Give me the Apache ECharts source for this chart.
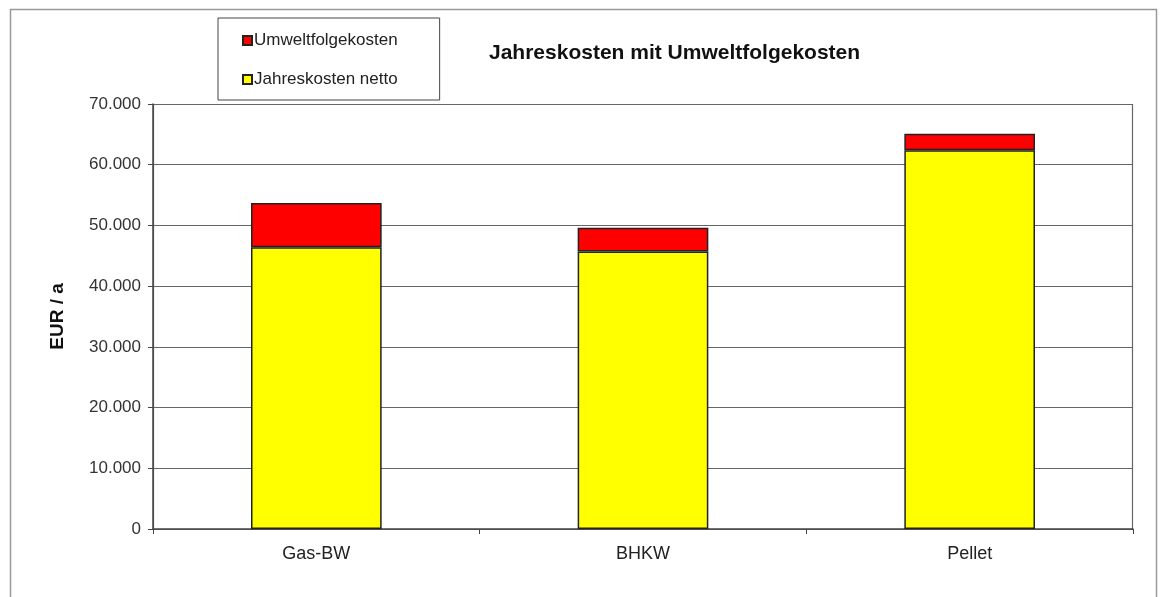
<!DOCTYPE html>
<html>
<head>
<meta charset="utf-8">
<script src="https://cdn.jsdelivr.net/npm/echarts@6/dist/echarts.min.js"></script>
<style>
html,body{margin:0;padding:0;background:#fff;}
#chart{width:1161px;height:597px;}
</style>
</head>
<body>
<div id="chart"></div>
<script>
const categories = ['Gas-BW', 'BHKW', 'Pellet'];
const netto = [46400, 45700, 62400];
const umwelt = [7300, 3900, 2700];
const yTicks = [0, 10000, 20000, 30000, 40000, 50000, 60000, 70000];

const fmt = v => String(v).replace(/\B(?=(\d{3})+(?!\d))/g, '.');
const FONT = 'Liberation Sans, Arial, sans-serif';

const chart = echarts.init(document.getElementById('chart'), null, {renderer: 'canvas'});
chart.setOption({
  backgroundColor: '#fff',
  animation: false,
  textStyle: {fontFamily: FONT},
  title: {
    text: 'Jahreskosten mit Umweltfolgekosten',
    left: 484, top: 38,
    textStyle: {fontFamily: FONT, fontSize: 21, fontWeight: 'bold', color: '#111'}
  },
  legend: {
    orient: 'vertical',
    left: 218, top: 18,
    padding: [14, 42, 12, 24],
    itemGap: 22,
    itemWidth: 9, itemHeight: 9,
    borderColor: '#444', borderWidth: 1,
    backgroundColor: '#fff',
    data: [
      {name: 'Umweltfolgekosten', icon: 'rect'},
      {name: 'Jahreskosten netto', icon: 'rect'}
    ],
    textStyle: {fontFamily: FONT, fontSize: 17, color: '#222', padding: [0, 0, 0, -3]}
  },
  graphic: [
    {type: 'rect', shape: {x: 10.5, y: 9.5, width: 1146, height: 600}, style: {fill: 'none', stroke: '#999', lineWidth: 1.5}, silent: true},
    {type: 'rect', shape: {x: 153.5, y: 104.5, width: 979, height: 425}, style: {fill: 'none', stroke: '#666', lineWidth: 1.2}, silent: true, z: -1}
  ],
  grid: {left: 153, right: 28, top: 104, bottom: 68},
  xAxis: {
    type: 'category',
    data: categories,
    axisLine: {lineStyle: {color: '#444', width: 1.5}},
    axisTick: {show: true, length: 5, lineStyle: {color: '#444'}},
    axisLabel: {fontFamily: FONT, fontSize: 18, color: '#222', margin: 16}
  },
  yAxis: {
    type: 'value',
    min: 0, max: 70000, interval: 10000,
    name: 'EUR / a',
    nameLocation: 'middle',
    nameGap: 86,
    nameTextStyle: {fontFamily: FONT, fontSize: 19, fontWeight: 'bold', color: '#111'},
    axisLine: {show: true, lineStyle: {color: '#444', width: 1.5}},
    axisTick: {show: true, length: 5, lineStyle: {color: '#444'}},
    splitLine: {lineStyle: {color: '#666', width: 1.2}},
    axisLabel: {fontFamily: FONT, fontSize: 17, color: '#333', margin: 12,
      formatter: v => yTicks.includes(v) ? fmt(v) : ''}
  },
  series: [
    {
      name: 'Jahreskosten netto', type: 'bar', stack: 'total',
      data: netto, barWidth: '40%',
      itemStyle: {color: '#ffff00', borderColor: '#222', borderWidth: 1.5}
    },
    {
      name: 'Umweltfolgekosten', type: 'bar', stack: 'total',
      data: umwelt, barWidth: '40%',
      itemStyle: {color: '#ff0000', borderColor: '#222', borderWidth: 1.5}
    }
  ]
});
</script>
</body>
</html>
